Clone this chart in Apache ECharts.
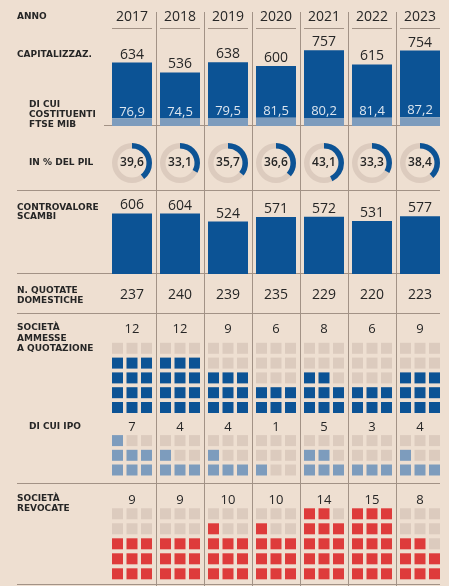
<!DOCTYPE html>
<html><head><meta charset="utf-8">
<script src="https://cdn.jsdelivr.net/npm/echarts@6/dist/echarts.min.js"></script>
<style>html,body{margin:0;padding:0;background:#eedfd1}#c{width:449px;height:586px}</style>
</head><body><div id="c"></div><script>
// ---- data ----
const years = ['2017','2018','2019','2020','2021','2022','2023'];
const capitalizzazione = [634,536,638,600,757,615,754];
const ftseMib = [76.9,74.5,79.5,81.5,80.2,81.4,87.2];
const pilPct = [39.6,33.1,35.7,36.6,43.1,33.3,38.4];
const controvalore = [606,604,524,571,572,531,577];
const quotateDomestiche = [237,240,239,235,229,220,223];
const ammesse = [12,12,9,6,8,6,9];
const ipo = [7,4,4,1,5,3,4];
const revocate = [9,9,10,10,14,15,8];

// ---- styles ----
const BG = '#eedfd1', DARK = '#0c5395', LIGHT = '#7d9cbd', EMPTY = '#dccbbe',
      RED = '#de3b3b', LINE = '#a29286', TXT = '#262626';
const NUMFONT = '"Open Sans", sans-serif';
const LBLFONT = 'bold 9px "DejaVu Sans", sans-serif';
const fmt = v => v.toFixed(1).replace('.', ',');

const chart = echarts.init(document.getElementById('c'));
const idx = years.map((y, i) => [i, 0]);

function waffle(values, color, numY, bottomTop, rows, pitchY) {
  return {
    type: 'custom', xAxisIndex: 2, yAxisIndex: 2, clip: false,
    data: values.map((v, i) => [i, v]),
    renderItem(params, api) {
      const i = api.value(0), v = api.value(1);
      const cx = api.coord([i, 0])[0];
      const cy = api.coord([0, numY])[1];
      const ch = [{type: 'text', style: {x: cx, y: cy, text: String(v), fill: TXT,
        font: '500 13px ' + NUMFONT, align: 'center', verticalAlign: 'middle'}}];
      for (let r = 0; r < rows; r++) {
        for (let c = 0; c < 3; c++) {
          const k = r * 3 + c;
          const top = api.coord([0, bottomTop - r * pitchY])[1];
          ch.push({type: 'rect', shape: {x: cx + (c - 1) * 14.5 - 5.5, y: top, width: 11, height: 11},
            style: {fill: k < v ? color : EMPTY}});
        }
      }
      return {type: 'group', children: ch};
    }
  };
}

const hline = (y, x1, x2) => ({type: 'line', shape: {x1, y1: y + 0.5, x2, y2: y + 0.5},
  style: {stroke: LINE, lineWidth: 1}, z: 1});
const ltext = (x, y, text, lh) => ({type: 'text', style: {x, y, text, fill: TXT, font: LBLFONT,
  verticalAlign: 'middle', lineHeight: lh || 10}, z: 5});

const grids = [
  {left: 108, right: 5, top: 26, height: 100},
  {left: 108, right: 5, top: 174, height: 100},
  {left: 108, right: 5, top: 0, height: 586}
];
const xAxes = grids.map((g, k) => ({type: 'category', gridIndex: k, data: years, show: false}));
const yAxes = [
  {type: 'value', gridIndex: 0, min: 0, max: 1000, show: false},
  {type: 'value', gridIndex: 1, min: 0, max: 1000, show: false},
  {type: 'value', gridIndex: 2, min: 0, max: 586, inverse: true, show: false}
];

chart.setOption({
  animation: false,
  backgroundColor: BG,
  grid: grids, xAxis: xAxes, yAxis: yAxes,
  graphic: [
    hline(125, 104, 440), hline(190, 17, 440), hline(273, 17, 440),
    hline(313, 17, 440), hline(483, 17, 440), hline(584, 17, 440),
    ltext(17, 17, 'ANNO'),
    ltext(17, 55, 'CAPITALIZZAZ.'),
    ltext(29, 115, 'DI CUI\nCOSTITUENTI\nFTSE MIB'),
    ltext(29, 163, 'IN % DEL PIL'),
    ltext(17, 212, 'CONTROVALORE\nSCAMBI', 9.5),
    ltext(17, 295.5, 'N. QUOTATE\nDOMESTICHE', 9.5),
    ltext(17, 338.5, 'SOCIETÀ\nAMMESSE\nA QUOTAZIONE', 10.5),
    ltext(29, 427, 'DI CUI IPO'),
    ltext(17, 504, 'SOCIETÀ\nREVOCATE')
  ],
  series: [
    // separators, years, underlines
    {
      type: 'custom', xAxisIndex: 2, yAxisIndex: 2, clip: false, z: 1, data: idx,
      renderItem(params, api) {
        const i = api.value(0);
        const cx = api.coord([i, 0])[0];
        const bw = api.size([1, 0])[0];
        const ch = [
          {type: 'text', style: {x: cx, y: api.coord([0, 17])[1], text: years[i], fill: TXT,
            font: '14px ' + NUMFONT, align: 'center', verticalAlign: 'middle'}},
          {type: 'line', shape: {x1: cx - 20, y1: 28.5, x2: cx + 20, y2: 28.5}, style: {stroke: LINE, lineWidth: 1}},
          {type: 'text', style: {x: cx, y: api.coord([0, 295])[1], text: String(quotateDomestiche[i]), fill: TXT,
            font: '14px ' + NUMFONT, align: 'center', verticalAlign: 'middle'}}
        ];
        if (i > 0) {
          const sx = Math.round(cx - bw / 2) + 0.5;
          ch.push({type: 'line', shape: {x1: sx, y1: 12, x2: sx, y2: 586}, style: {stroke: LINE, lineWidth: 1}});
        }
        return {type: 'group', children: ch};
      }
    },
    // capitalizzazione: ftse part
    {
      type: 'bar', xAxisIndex: 0, yAxisIndex: 0, stack: 'cap', barWidth: 40, z: 3,
      data: ftseMib, itemStyle: {color: LIGHT},
      label: {show: true, position: 'top', distance: 0, color: '#dde6ef', fontFamily: 'Open Sans',
        fontSize: 13, formatter: p => fmt(p.value)}
    },
    // capitalizzazione: rest
    {
      type: 'bar', xAxisIndex: 0, yAxisIndex: 0, stack: 'cap', barWidth: 40, z: 2,
      data: capitalizzazione.map((v, i) => +(v - ftseMib[i]).toFixed(1)), itemStyle: {color: DARK},
      label: {show: true, position: 'top', distance: 1, color: TXT, fontFamily: 'Open Sans',
        fontSize: 14, formatter: p => String(capitalizzazione[p.dataIndex])}
    },
    // controvalore
    {
      type: 'bar', xAxisIndex: 1, yAxisIndex: 1, barWidth: 40,
      data: controvalore, itemStyle: {color: DARK},
      label: {show: true, position: 'top', distance: 1, color: TXT, fontFamily: 'Open Sans', fontSize: 14}
    },
    // donuts % PIL
    {
      type: 'custom', xAxisIndex: 2, yAxisIndex: 2, clip: false,
      data: pilPct.map((v, i) => [i, v]),
      renderItem(params, api) {
        const i = api.value(0), v = api.value(1);
        const cx = api.coord([i, 0])[0], cy = api.coord([0, 163])[1];
        return {type: 'group', children: [
          {type: 'sector', shape: {cx, cy, r: 20, r0: 14.5, startAngle: 0, endAngle: Math.PI * 2}, style: {fill: EMPTY}},
          {type: 'sector', shape: {cx, cy, r: 20, r0: 14.5, startAngle: -Math.PI / 2,
            endAngle: -Math.PI / 2 + Math.PI * 2 * v / 100, clockwise: true}, style: {fill: DARK}},
          {type: 'text', style: {x: cx, y: cy, text: fmt(v), fill: TXT, font: '600 12px ' + NUMFONT,
            align: 'center', verticalAlign: 'middle'}}
        ]};
      }
    },
    waffle(ammesse, DARK, 329, 402, 5, 14.8),
    waffle(ipo, LIGHT, 427, 464.5, 3, 14.7),
    waffle(revocate, RED, 500, 568.3, 5, 15)
  ]
});
</script></body></html>
